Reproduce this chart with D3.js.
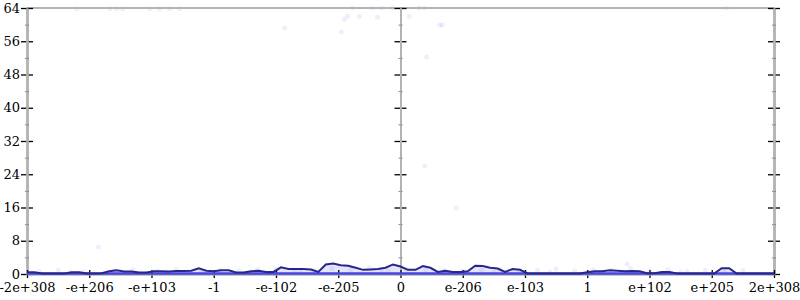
<!DOCTYPE html>
<html>
<head>
<meta charset="utf-8">
<script src="https://cdn.jsdelivr.net/npm/d3@7"></script>
<style>
  body { margin: 0; background: #fff; }
  svg text { font-family: "DejaVu Serif", serif; font-size: 13px; fill: #000; }
</style>
</head>
<body>
<div id="chart"></div>
<script>
 // tick positions on the x axis and their labels
 var xTicks = [-6, -5, -4, -3, -2, -1, 0, 1, 2, 3, 4, 5, 6]
 var xLabels = ["-2e+308", "-e+206", "-e+103", "-1", "-e-102", "-e-205", "0",
                "e-206", "e-103", "1", "e+102", "e+205", "2e+308"]
 var yTicks = [0, 8, 16, 24, 32, 40, 48, 56, 64]
 var yMinor = [4, 12, 20, 28, 36, 44, 52, 60]

 // line values, sampled every 0.12 from -6 to 6
 var lineValues = [
   0.4, 0.4, 0.1, 0.1, 0.1, 0.1, 0.4, 0.4, 0.15, 0.15,
   0.2, 0.65, 0.9, 0.6, 0.6, 0.35, 0.35, 0.65, 0.65, 0.6,
   0.7, 0.7, 0.8, 1.4, 0.8, 0.65, 0.9, 0.9, 0.35, 0.35,
   0.65, 0.8, 0.5, 0.5, 1.6, 1.2, 1.2, 1.2, 1.1, 0.5,
   2.3, 2.5, 2.1, 2.0, 1.5, 1.0, 1.1, 1.2, 1.5, 2.3,
   1.8, 1.0, 1.0, 1.9, 1.5, 0.5, 0.8, 0.5, 0.5, 0.65,
   2.0, 1.9, 1.5, 1.3, 0.5, 1.2, 1.0, 0.15, 0.15, 0.15,
   0.15, 0.15, 0.15, 0.15, 0.15, 0.4, 0.65, 0.65, 0.9, 0.8,
   0.65, 0.7, 0.65, 0.2, 0.2, 0.5, 0.5, 0.1, 0.1, 0.1,
   0.1, 0.1, 0.1, 1.4, 1.4, 0.1, 0.1, 0.1, 0.1, 0.1,
   0.1
 ]

 // scattered samples (x in axis units, y value)
 var dotX = [-5.20, -4.67, -4.56, -4.46, -4.03, -3.87, -3.71, -3.55, -0.77, -0.85,
             -0.66, -0.45, -0.30, -0.37, -0.13, 0.14, 0.30, 0.39, 0.63, 0.67,
             -0.95, 0.42, -1.86, -0.90, 0.39, 0.90, -4.85, 5.23, 3.64,
             -5.8, -5.5, -5.1, -4.6, -4.3, -3.9, -3.6, -3.2, -2.9, -2.6,
             -2.3, -2.0, -1.7, -1.4, -1.1, -0.8, -0.5, -0.2, 0.1, 0.4,
             0.7, 1.0, 1.3, 1.6, 1.9, 2.2, 2.5, 2.8, 3.1, 3.4,
             3.7, 4.0, 4.3, 4.6, 4.9, 5.2, 5.5, -5.3, -3.4, -1.6,
             -0.3, 1.5, 2.0, 2.4, 3.0, 4.5]
 var dotY = [63.8, 63.8, 63.8, 63.8, 63.8, 63.8, 63.8, 63.8, 64, 62,
             62, 64, 64, 61.8, 64, 62, 64, 64, 59.9, 59.9,
             58.2, 52.2, 59.2, 61.3, 26, 15.9, 6.5, 64, 2.4,
             0.6, 0.9, 0.5, 0.8, 1.0, 0.7, 1.1, 0.6, 0.9, 0.8,
             1.0, 1.2, 0.7, 0.9, 1.3, 1.1, 1.5, 0.8, 1.2, 1.0,
             0.9, 0.7, 1.0, 1.1, 0.8, 0.9, 1.2, 0.7, 1.0, 0.9,
             1.3, 0.8, 1.0, 0.6, 0.9, 0.7, 0.8, 0.4, 0.5, 0.4,
             0.5, 0.4, 0.5, 0.5, 0.4, 0.5]

 var width = 800, height = 300

 var svg = d3.select("#chart").append("svg")
    .attr("width", width)
    .attr("height", height)

 var x = d3.scaleLinear().domain([-6, 6]).range([27, 774])
 var y = d3.scaleLinear().domain([0, 64]).range([274, 8])

 var lineData = lineValues.map((v, i) => ({x: -6 + i * 0.12, y: v}))

 // filled area under the line
 svg.append("path")
    .datum(lineData)
    .attr("d", d3.area().x(d => x(d.x)).y0(y(0)).y1(d => y(d.y)))
    .style("fill", "#c4c4f4")
    .style("fill-opacity", 0.45)

 // scattered points
 svg.append("g")
    .selectAll("circle")
    .data(dotX.map((d, i) => ({x: d, y: dotY[i]})))
    .join("circle")
      .attr("cx", d => x(d.x))
      .attr("cy", d => y(d.y))
      .attr("r", 2.5)
      .style("fill", "#7070f0")
      .style("fill-opacity", 0.12)

 // top border
 svg.append("line")
    .attr("x1", x(-6)).attr("x2", x(6))
    .attr("y1", y(64)).attr("y2", y(64))
    .style("stroke", "#b4b4b4")
    .style("stroke-width", 2)

 // vertical axes at left, centre and right
 ;[-6, 0, 6].forEach(function(pos) {
    var g = svg.append("g").attr("transform", "translate(" + x(pos) + ",0)")
    var left = d3.axisLeft(y).tickValues(yTicks).tickSizeOuter(0).tickSizeInner(6).tickPadding(1)
    if (pos != -6) left.tickFormat("")
    g.append("g").call(left)
    g.append("g").call(d3.axisRight(y).tickValues(yTicks).tickSizeOuter(0).tickSizeInner(6).tickFormat(""))
    g.append("g").attr("class", "minor")
      .call(d3.axisLeft(y).tickValues(yMinor).tickSizeOuter(0).tickSizeInner(2).tickFormat(""))
    g.append("g").attr("class", "minor")
      .call(d3.axisRight(y).tickValues(yMinor).tickSizeOuter(0).tickSizeInner(2).tickFormat(""))
 })

 // bottom axis
 var gx = svg.append("g").attr("transform", "translate(0," + y(0) + ")")
 gx.append("g").call(d3.axisBottom(x).tickValues(xTicks).tickSizeOuter(0).tickSizeInner(4).tickPadding(5)
    .tickFormat((d, i) => xLabels[i]))
 gx.append("g").call(d3.axisTop(x).tickValues(xTicks).tickSizeOuter(0).tickSizeInner(4).tickFormat(""))

 svg.selectAll(".domain").style("stroke", "#b4b4b4").style("stroke-width", 2)
 svg.selectAll(".tick line").style("stroke", "#000").style("stroke-width", 1.3)
 svg.selectAll(".minor .tick line").style("stroke", "#888").style("stroke-width", 1)
 svg.selectAll(".tick text").style("font-family", "DejaVu Serif").style("font-size", "13px")

 // thick band on the zero line
 svg.append("line")
    .attr("x1", x(-6)).attr("x2", x(6))
    .attr("y1", y(0) - 0.5).attr("y2", y(0) - 0.5)
    .style("stroke", "#4646e0")
    .style("stroke-width", 2.5)

 // the line itself
 svg.append("path")
    .datum(lineData)
    .attr("d", d3.line().x(d => x(d.x)).y(d => y(d.y)))
    .style("fill", "none")
    .style("stroke", "#26268c")
    .style("stroke-width", 2)
</script>
</body>
</html>
